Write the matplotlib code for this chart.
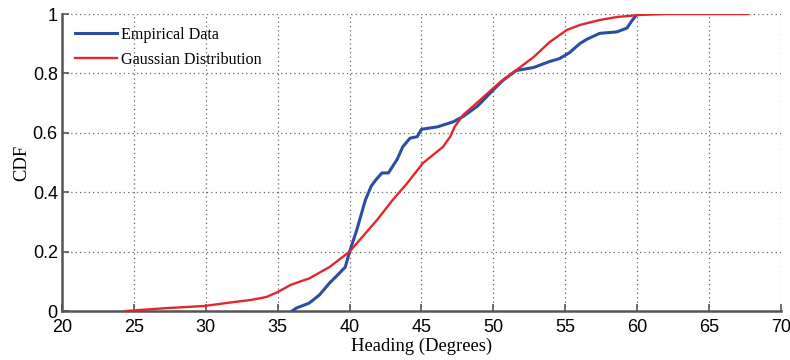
import matplotlib.pyplot as plt

# empirical CDF (blue)
emp_x = [36.0, 36.3, 37.2, 37.9, 38.6, 39.3, 39.7, 40.0, 40.5, 41.1, 41.5, 41.8,
         42.25, 42.7, 43.3, 43.7, 44.2, 44.7, 45.0, 46.1, 47.2, 47.9, 48.9, 50.0,
         50.7, 51.6, 52.8, 53.9, 54.6, 55.3, 56.0, 56.5, 57.4, 58.6, 59.3, 59.6, 60.0]
emp_y = [0.0, 0.01, 0.027, 0.054, 0.094, 0.128, 0.148, 0.2, 0.273, 0.374, 0.42, 0.44,
         0.465, 0.465, 0.51, 0.553, 0.582, 0.587, 0.612, 0.62, 0.637, 0.655, 0.69, 0.745,
         0.778, 0.81, 0.82, 0.84, 0.85, 0.87, 0.90, 0.915, 0.935, 0.94, 0.953, 0.975, 1.0]

# fitted gaussian CDF (red)
gau_x = [24.4, 27.3, 29.9, 31.9, 33.1, 34.2, 35.0, 35.9, 36.6, 37.2, 38.6, 40.0,
         41.9, 43.0, 44.0, 45.1, 46.5, 47.0, 47.3, 47.9, 49.3, 50.5, 51.7, 52.8,
         53.9, 55.1, 56.0, 57.4, 58.6, 60.2, 62.0, 65.0, 67.7]
gau_y = [0.0, 0.01, 0.017, 0.03, 0.037, 0.047, 0.064, 0.088, 0.1, 0.11, 0.148, 0.2,
         0.306, 0.374, 0.43, 0.498, 0.553, 0.587, 0.62, 0.66, 0.72, 0.772, 0.815, 0.855,
         0.905, 0.946, 0.963, 0.98, 0.99, 0.997, 1.0, 1.0, 1.0]

xticks = [20, 25, 30, 35, 40, 45, 50, 55, 60, 65, 70]
yticks = [0, 0.2, 0.4, 0.6, 0.8, 1]

fig = plt.figure(figsize=(7.9, 3.6), dpi=100)
ax = fig.add_axes([0.0785, 0.136, 0.910, 0.825])

ax.plot(emp_x, emp_y, color='#2b4ea2', lw=2.2, label='Empirical Data', zorder=3)
ax.plot(gau_x, gau_y, color='#e3262b', lw=1.7, label='Gaussian Distribution', zorder=3)

ax.set_xlim(20, 70)
ax.set_ylim(0, 1)
ax.set_xticks(xticks)
ax.set_yticks(yticks)
ax.set_xticklabels([str(t) for t in xticks], family='Liberation Sans', fontsize=13)
ax.set_yticklabels(['0', '0.2', '0.4', '0.6', '0.8', '1'], family='Liberation Sans', fontsize=13)
ax.tick_params(direction='in', length=5, width=1.2, color='#555555', pad=6)
ax.tick_params(axis='y', pad=3)

ax.grid(True, linestyle=(0, (1, 2.5)), color='#666666', lw=0.9)
for s in ['top', 'right']:
    ax.spines[s].set_visible(False)
for s in ['left', 'bottom']:
    ax.spines[s].set_color('#555555')
    ax.spines[s].set_linewidth(1.8)

ax.set_xlabel('Heading (Degrees)', family='Liberation Serif', fontsize=13.4, labelpad=1)
ax.set_ylabel('CDF', family='Liberation Serif', fontsize=13.4, labelpad=2)

ax.legend(loc='upper left', frameon=False, prop={'family': 'Liberation Serif', 'size': 11.6},
          handlelength=2.6, handletextpad=0.25, borderaxespad=0.5, borderpad=0.3,
          labelspacing=0.55)

fig.savefig('out.png', dpi=100)
